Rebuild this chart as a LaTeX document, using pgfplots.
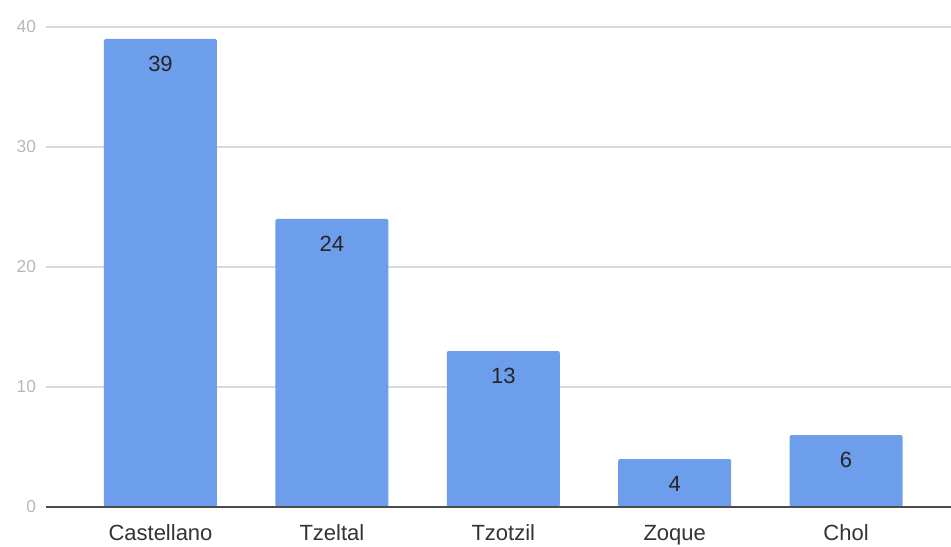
\documentclass[border=0pt]{standalone}
\usepackage{pgfplots}
\pgfplotsset{compat=1.18}
\usepackage{fontspec}
\setmainfont{Liberation Sans}
\definecolor{barblue}{HTML}{6D9EEB}
\definecolor{gridgray}{HTML}{D9D9D9}
\definecolor{ticklab}{HTML}{B8B8B8}
\definecolor{txt}{HTML}{333333}
\begin{document}
\begin{tikzpicture}
\begin{axis}[
  scale only axis,
  width=678.75pt, height=360pt,
  xmin=-0.668, xmax=4.612,
  ymin=0, ymax=40,
  ytick={0,10,20,30,40},
  xtick={0,1,2,3,4},
  xticklabels={Castellano,Tzeltal,Tzotzil,Zoque,Chol},
  ymajorgrids,
  grid style={gridgray, line width=0.8pt},
  axis line style={draw=none},
  major tick length=0pt,
  /pgf/number format/assume math mode=true,
  yticklabel style={font=\fontsize{13}{15}\selectfont, text=ticklab, xshift=-4pt},
  xticklabel style={font=\fontsize{16.5}{19}\selectfont, text=txt, yshift=-10pt},
  clip=false,
  nodes near coords,
  every node near coord/.append style={anchor=center, yshift=-18.5pt, font=\fontsize{16.5}{19}\selectfont, text=black!85},
]
\addplot[ybar, bar width=84.75pt, fill=barblue, draw=none, rounded corners=1.5pt] coordinates {(0,39) (1,24) (2,13) (3,4) (4,6)};
\draw[black!70, line width=1pt] (axis cs:-0.668,0) -- (axis cs:4.612,0);
\end{axis}
\pgfresetboundingbox
\path[use as bounding box] ([xshift=-34.5pt,yshift=-29.25pt]current axis.south west) rectangle ([yshift=20.25pt]current axis.north east);
\end{tikzpicture}
\end{document}
